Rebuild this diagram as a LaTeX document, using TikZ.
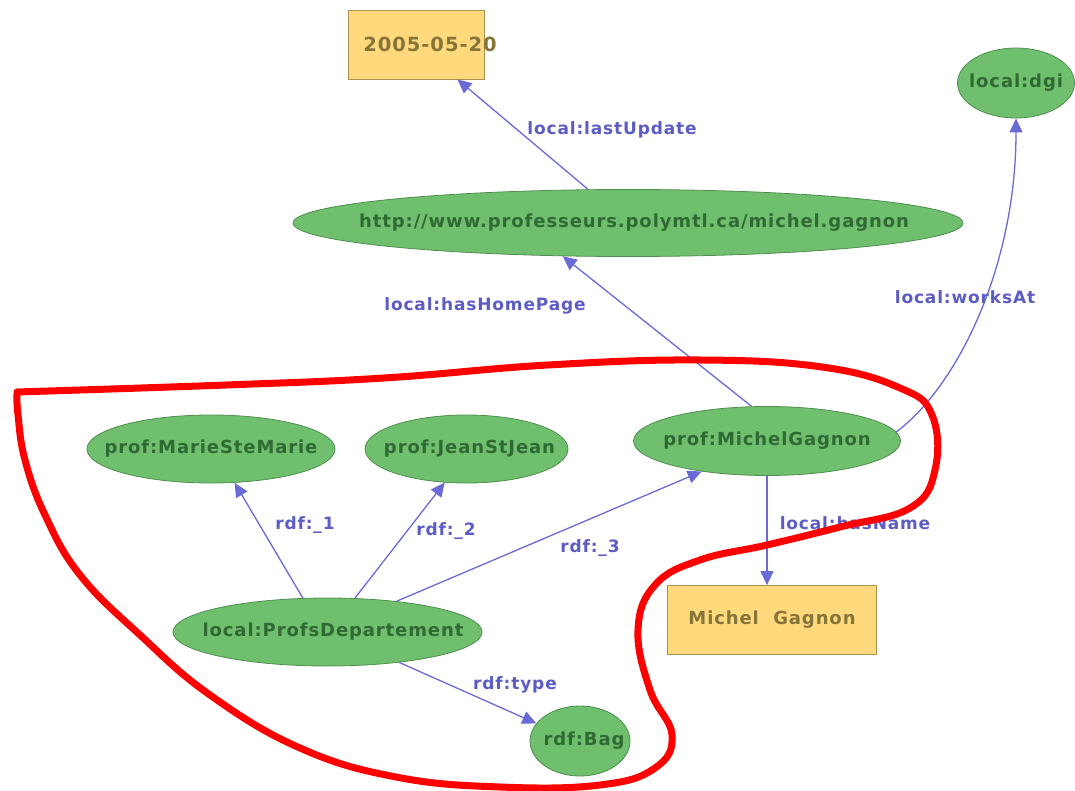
\documentclass[tikz,border=0pt]{standalone}
\usepackage{fontspec}
\setmainfont{DejaVu Sans}
\newfontfamily\graphfont[LetterSpace=5,BoldFont={DejaVu Sans Bold}]{DejaVu Sans}
\usetikzlibrary{shapes.geometric,arrows.meta}
\definecolor{nodefill}{HTML}{6FBF6F}
\definecolor{nodeline}{HTML}{4E8E4E}
\definecolor{nodetext}{HTML}{2F6A33}
\definecolor{boxfill}{HTML}{FFD97C}
\definecolor{boxline}{HTML}{A89050}
\definecolor{boxtext}{HTML}{857538}
\definecolor{edgecol}{HTML}{6A6AD6}
\definecolor{edgetext}{HTML}{5C5CC4}
\definecolor{scribble}{HTML}{FF0000}
\begin{document}
\begin{tikzpicture}[x=1pt,y=-1pt,
  res/.style={ellipse, draw=nodeline, fill=nodefill, line width=0.8pt, inner sep=0pt,
    text=nodetext, font=\graphfont\bfseries\fontsize{18}{20}\selectfont},
  lit/.style={rectangle, draw=boxline, fill=boxfill, line width=0.8pt, inner sep=0pt,
    text=boxtext, font=\graphfont\bfseries\fontsize{18}{20}\selectfont},
  rel/.style={draw=edgecol, line width=1.3pt, -{Triangle[length=14pt,width=13pt]}},
  lbl/.style={text=edgetext, inner sep=0pt, font=\graphfont\bfseries\fontsize{17}{19}\selectfont},
  loop/.style={draw=scribble, line width=7pt, line cap=round, line join=round}
]
\useasboundingbox (0,0) rectangle (1075,791);

% resources
\node[res, minimum width=670pt, minimum height=67pt] (home) at (628,223)
  {\makebox[0pt]{\hspace{12pt}http://www.professeurs.polymtl.ca/michel.gagnon}};
\node[res, minimum width=117pt, minimum height=70pt] (dgi) at (1016,83)
  {\makebox[0pt]{local:dgi}};
\node[res, minimum width=248pt, minimum height=68pt] (marie) at (211,449)
  {\makebox[0pt]{prof:MarieSteMarie}};
\node[res, minimum width=203pt, minimum height=68pt] (jean) at (466.5,449)
  {\makebox[0pt]{\hspace{6pt}prof:JeanStJean}};
\node[res, minimum width=267pt, minimum height=69pt] (mg) at (767,441)
  {\makebox[0pt]{prof:MichelGagnon}};
\node[res, minimum width=309pt, minimum height=68pt] (profs) at (327.5,632)
  {\makebox[0pt]{\hspace{11pt}local:ProfsDepartement}};
\node[res, minimum width=100pt, minimum height=70pt] (bag) at (580,741)
  {\makebox[0pt]{\hspace{8pt}rdf:Bag}};

% literals
\node[lit, minimum width=136pt, minimum height=69pt] (date) at (416,44.5)
  {\makebox[0pt]{\hspace{28pt}\fontsize{19.5}{21}\selectfont 2005-05-20}};
\node[lit, minimum width=209pt, minimum height=69pt] (name) at (772,620)
  {\makebox[0pt]{Michel\ \ Gagnon}};

% properties
\draw[rel] (home) -- (date);
\draw[rel] (mg.114) -- (home.207);
\draw[rel] (mg.4) .. controls +(60,-45) and +(0,150) .. (dgi.south);
\draw[rel] (mg.south) -- (mg.south |- name.north);
\draw[rel] (profs.126) -- (marie.-55);
\draw[rel] (profs.51) -- (jean.237);
\draw[rel] (profs.24) -- (mg.205);
\draw[rel] (profs.-23) -- (bag.158);

% property labels
\node[lbl] (l1) at (612,130) {local:lastUpdate};
\node[lbl] (l2) at (485,306) {local:hasHomePage};
\node[lbl] (l3) at (965,297) {local:worksAt};
\node[lbl] (l4) at (855,523) {local:hasName};
\node[lbl] (l5) at (305,525) {rdf:\_1};
\node[lbl] (l6) at (446,531) {rdf:\_2};
\node[lbl] (l7) at (590,548) {rdf:\_3};
\node[lbl] (l8) at (515,685) {rdf:type};

% hand-drawn outline around the department group
\draw[loop] plot[smooth, tension=0.7] coordinates {
  (17,392) (226,385) (384,378) (548,365) (700,360) (822,367) (900,388)
  (932,415) (935,470) (910,508) (840,527) (767,545) (700,560) (655,585)
  (638,630) (650,690) (672,735) (655,768) (600,785) (500,787) (396,777)
  (300,748) (210,695) (140,635) (80,575) (45,515) (25,460) (18,415) (17,394)};
\end{tikzpicture}
\end{document}
